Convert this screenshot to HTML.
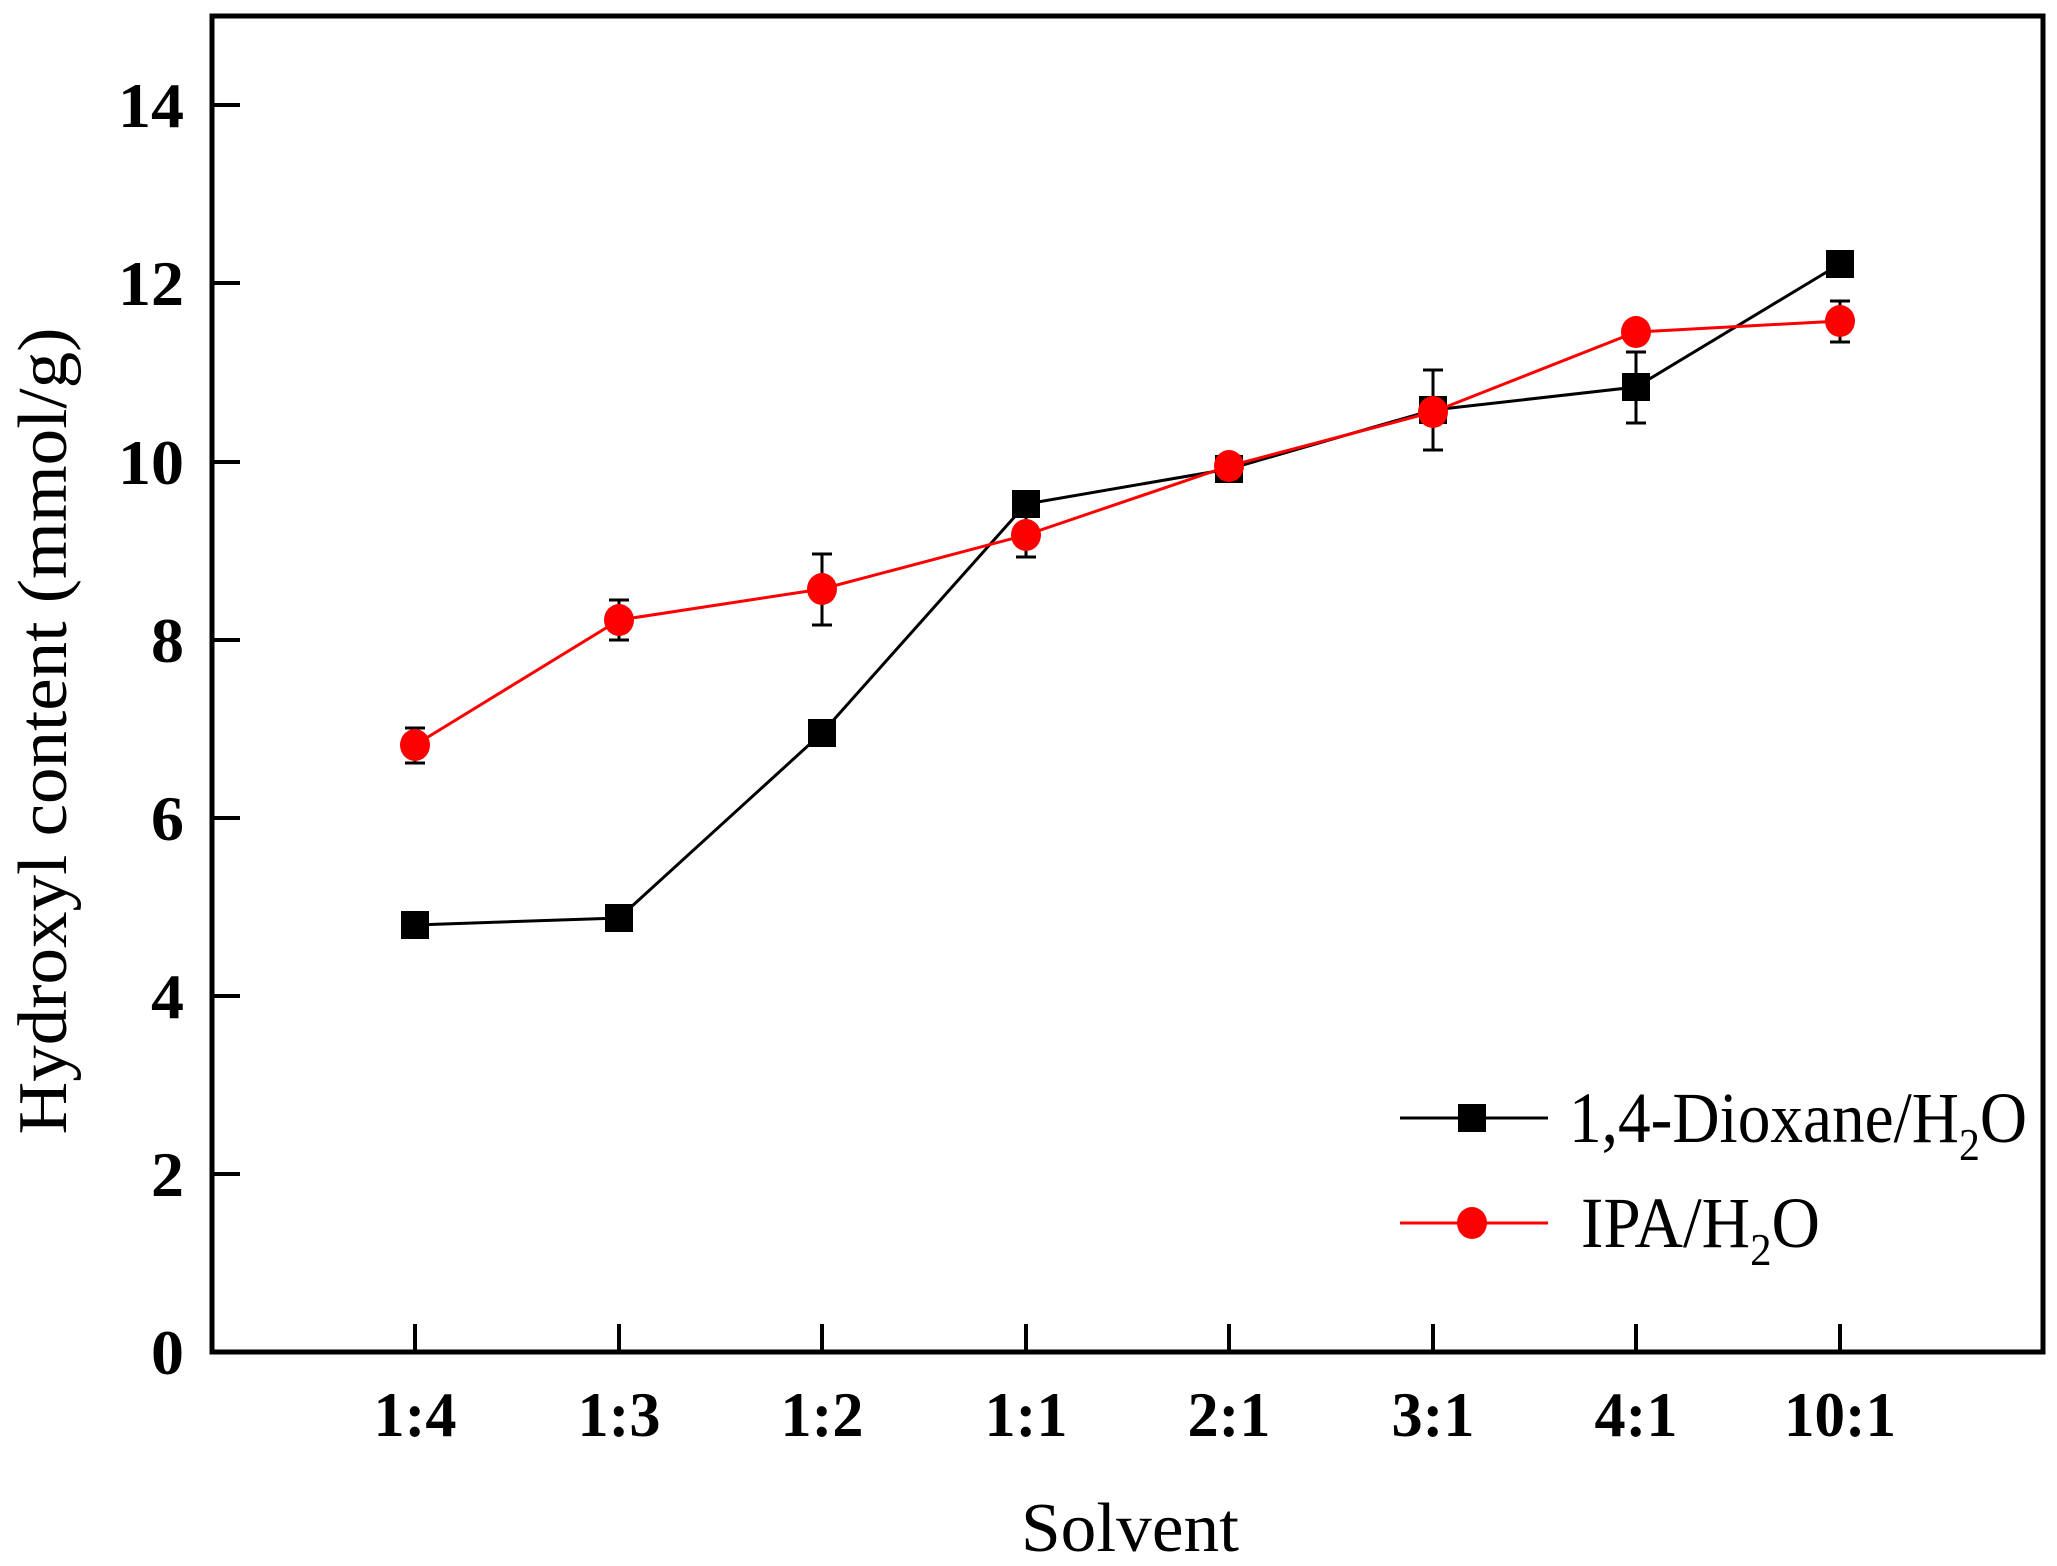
<!DOCTYPE html>
<html><head><meta charset="utf-8"><style>html,body{margin:0;padding:0;background:#fff}svg{display:block}</style></head>
<body>
<svg width="2057" height="1566" viewBox="0 0 2057 1566" xmlns="http://www.w3.org/2000/svg" font-family="'Liberation Serif', serif">
<rect width="2057" height="1566" fill="#fff"/>
<rect x="212" y="16" width="1831" height="1336" fill="none" stroke="#000" stroke-width="5"/>
<g stroke="#000" stroke-width="4">
<line x1="212" y1="1174" x2="240" y2="1174"/><line x1="212" y1="996" x2="240" y2="996"/>
<line x1="212" y1="818" x2="240" y2="818"/><line x1="212" y1="640" x2="240" y2="640"/>
<line x1="212" y1="462" x2="240" y2="462"/><line x1="212" y1="283" x2="240" y2="283"/>
<line x1="212" y1="105" x2="240" y2="105"/>
<line x1="415" y1="1352" x2="415" y2="1324"/><line x1="619" y1="1352" x2="619" y2="1324"/>
<line x1="822" y1="1352" x2="822" y2="1324"/><line x1="1026" y1="1352" x2="1026" y2="1324"/>
<line x1="1229" y1="1352" x2="1229" y2="1324"/><line x1="1433" y1="1352" x2="1433" y2="1324"/>
<line x1="1636" y1="1352" x2="1636" y2="1324"/><line x1="1840" y1="1352" x2="1840" y2="1324"/>
</g>
<g font-size="64" font-weight="bold" text-anchor="end">
<text x="184" y="1374" textLength="33" lengthAdjust="spacingAndGlyphs">0</text>
<text x="184" y="1196" textLength="33" lengthAdjust="spacingAndGlyphs">2</text>
<text x="184" y="1018" textLength="33" lengthAdjust="spacingAndGlyphs">4</text>
<text x="184" y="840" textLength="33" lengthAdjust="spacingAndGlyphs">6</text>
<text x="184" y="662" textLength="33" lengthAdjust="spacingAndGlyphs">8</text>
<text x="184" y="484" textLength="66" lengthAdjust="spacingAndGlyphs">10</text>
<text x="184" y="305" textLength="66" lengthAdjust="spacingAndGlyphs">12</text>
<text x="184" y="127" textLength="66" lengthAdjust="spacingAndGlyphs">14</text>
</g>
<g font-size="64" font-weight="bold" text-anchor="middle">
<text x="415" y="1436" textLength="83" lengthAdjust="spacingAndGlyphs">1:4</text>
<text x="619" y="1436" textLength="83" lengthAdjust="spacingAndGlyphs">1:3</text>
<text x="822" y="1436" textLength="83" lengthAdjust="spacingAndGlyphs">1:2</text>
<text x="1026" y="1436" textLength="83" lengthAdjust="spacingAndGlyphs">1:1</text>
<text x="1229" y="1436" textLength="83" lengthAdjust="spacingAndGlyphs">2:1</text>
<text x="1433" y="1436" textLength="83" lengthAdjust="spacingAndGlyphs">3:1</text>
<text x="1636" y="1436" textLength="83" lengthAdjust="spacingAndGlyphs">4:1</text>
<text x="1840" y="1436" textLength="112" lengthAdjust="spacingAndGlyphs">10:1</text>
</g>
<text x="1021" y="1551" font-size="70" textLength="218" lengthAdjust="spacingAndGlyphs">Solvent</text>
<text transform="translate(66,731) rotate(-90)" x="0" y="0" font-size="70" text-anchor="middle" textLength="807" lengthAdjust="spacingAndGlyphs">Hydroxyl content (mmol/g)</text>
<!-- error bars -->
<g stroke="#000" stroke-width="3">
<line x1="1433" y1="370" x2="1433" y2="450"/><line x1="1423" y1="370" x2="1443" y2="370"/><line x1="1423" y1="450" x2="1443" y2="450"/>
<line x1="1636" y1="352" x2="1636" y2="423"/><line x1="1626" y1="352" x2="1646" y2="352"/><line x1="1626" y1="423" x2="1646" y2="423"/>
<line x1="822" y1="554" x2="822" y2="625"/><line x1="812" y1="554" x2="832" y2="554"/><line x1="812" y1="625" x2="832" y2="625"/>
<line x1="415" y1="728" x2="415" y2="763"/>
<line x1="405" y1="728" x2="425" y2="728"/><line x1="405" y1="763" x2="425" y2="763"/>
<line x1="619" y1="600" x2="619" y2="640"/>
<line x1="609" y1="600" x2="629" y2="600"/><line x1="609" y1="640" x2="629" y2="640"/>
<line x1="1026" y1="518" x2="1026" y2="557"/><line x1="1016" y1="557" x2="1036" y2="557"/>
<line x1="1840" y1="301" x2="1840" y2="342"/><line x1="1830" y1="301" x2="1850" y2="301"/><line x1="1830" y1="342" x2="1850" y2="342"/>
</g>
<polyline fill="none" stroke="#000" stroke-width="3" points="415,925 619,918 822,733 1026,504 1229,469 1433,410 1636,387 1840,264"/>
<g fill="#000">
<rect x="401" y="911" width="28" height="28"/><rect x="605" y="904" width="28" height="28"/>
<rect x="808" y="719" width="28" height="28"/><rect x="1012" y="490" width="28" height="28"/>
<rect x="1215" y="455" width="28" height="28"/><rect x="1419" y="396" width="28" height="28"/>
<rect x="1622" y="373" width="28" height="28"/><rect x="1826" y="250" width="28" height="28"/>
</g>
<polyline fill="none" stroke="#f00" stroke-width="3" points="415,745 619,620 822,589 1026,535 1229,466 1433,412 1636,332 1840,321"/>
<g fill="#f00">
<ellipse cx="415" cy="745" rx="15" ry="16"/><ellipse cx="619" cy="620" rx="15" ry="16"/>
<ellipse cx="822" cy="589" rx="15" ry="16"/><ellipse cx="1026" cy="535" rx="15" ry="16"/>
<ellipse cx="1229" cy="466" rx="15" ry="16"/><ellipse cx="1433" cy="412" rx="15" ry="16"/>
<ellipse cx="1636" cy="332" rx="15" ry="16"/><ellipse cx="1840" cy="321" rx="15" ry="16"/>
</g>
<line x1="1400" y1="1118" x2="1548" y2="1118" stroke="#000" stroke-width="3"/>
<rect x="1458" y="1104" width="28" height="28" fill="#000"/>
<line x1="1400" y1="1223" x2="1548" y2="1223" stroke="#f00" stroke-width="3"/>
<ellipse cx="1472" cy="1223" rx="15" ry="16" fill="#f00"/>
<text x="1569" y="1142" font-size="72" textLength="458" lengthAdjust="spacingAndGlyphs">1,4-Dioxane/H<tspan font-size="46" dy="18">2</tspan><tspan dy="-18">O</tspan></text>
<text x="1581" y="1247" font-size="72" textLength="239" lengthAdjust="spacingAndGlyphs">IPA/H<tspan font-size="46" dy="18">2</tspan><tspan dy="-18">O</tspan></text>
</svg>
</body></html>
